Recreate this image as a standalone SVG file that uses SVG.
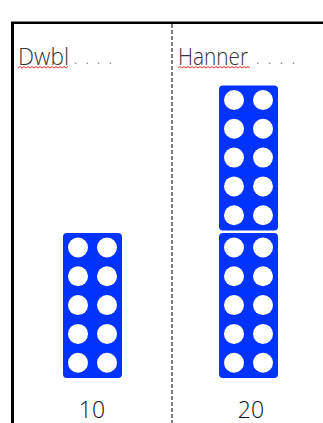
<svg xmlns="http://www.w3.org/2000/svg" width="323" height="423" viewBox="0 0 323 423">
<style>
.lbl{font-family:"Open Sans","Liberation Sans",sans-serif;font-weight:300;fill:#333;font-size:24px}
.dots{font-family:"Liberation Sans",sans-serif;fill:#777;font-size:12px}
.num{font-family:"Open Sans","Liberation Sans",sans-serif;font-weight:300;fill:#111;font-size:23px}
.brick{fill:#0033ff}
.hole{fill:#fff}
.wave{fill:none;stroke:#e8352a;stroke-width:1}
</style>
<defs>
<g id="ten">
<rect class="brick" x="0" y="0" width="59" height="145" rx="4"/>
<circle class="hole" cx="15" cy="14.5" r="10"/><circle class="hole" cx="44" cy="14.5" r="10"/>
<circle class="hole" cx="15" cy="43.3" r="10"/><circle class="hole" cx="44" cy="43.3" r="10"/>
<circle class="hole" cx="15" cy="72.1" r="10"/><circle class="hole" cx="44" cy="72.1" r="10"/>
<circle class="hole" cx="15" cy="100.9" r="10"/><circle class="hole" cx="44" cy="100.9" r="10"/>
<circle class="hole" cx="15" cy="129.7" r="10"/><circle class="hole" cx="44" cy="129.7" r="10"/>
</g>
</defs>
<rect width="323" height="423" fill="#fff"/>
<g id="frame">
<line x1="12.5" y1="22" x2="12.5" y2="423" stroke="#000" stroke-width="3"/>
<line x1="11" y1="22.7" x2="323" y2="22.7" stroke="#000" stroke-width="2.5"/>
<line x1="172" y1="24" x2="172" y2="423" stroke="#555" stroke-width="1.5" stroke-dasharray="4 2"/>
</g>
<g id="label-dwbl">
<text class="lbl" x="18" y="64.5" textLength="51" lengthAdjust="spacingAndGlyphs">Dwbl</text>
<text class="dots" x="74" y="64" textLength="38" lengthAdjust="spacing">. . . .</text>
<path class="wave" d="M18 68 l2 -1.5 l2 1.5 l2 -1.5 l2 1.5 l2 -1.5 l2 1.5 l2 -1.5 l2 1.5 l2 -1.5 l2 1.5 l2 -1.5 l2 1.5 l2 -1.5 l2 1.5 l2 -1.5 l2 1.5 l2 -1.5 l2 1.5 l2 -1.5 l2 1.5 l2 -1.5 l2 1.5 l2 -1.5 l2 1.5 l2 -1.5"/>
</g>
<g id="label-hanner">
<text class="lbl" x="178" y="64.5" textLength="70" lengthAdjust="spacingAndGlyphs">Hanner</text>
<text class="dots" x="256" y="64" textLength="39" lengthAdjust="spacing">. . . .</text>
<path class="wave" d="M178 68 l2 -1.5 l2 1.5 l2 -1.5 l2 1.5 l2 -1.5 l2 1.5 l2 -1.5 l2 1.5 l2 -1.5 l2 1.5 l2 -1.5 l2 1.5 l2 -1.5 l2 1.5 l2 -1.5 l2 1.5 l2 -1.5 l2 1.5 l2 -1.5 l2 1.5 l2 -1.5 l2 1.5 l2 -1.5 l2 1.5 l2 -1.5 l2 1.5 l2 -1.5 l2 1.5 l2 -1.5 l2 1.5 l2 -1.5 l2 1.5 l2 -1.5 l2 1.5 l2 -1.5 l2 1.5"/>
</g>
<g id="brick-left"><use href="#ten" x="63" y="233"/></g>
<g id="brick-right-top"><use href="#ten" x="219" y="85.5"/></g>
<g id="brick-right-bottom"><use href="#ten" x="219" y="233"/></g>
<g id="num-10"><text class="num" x="92" y="417.5" text-anchor="middle">10</text></g>
<g id="num-20"><text class="num" x="251" y="417.5" text-anchor="middle">20</text></g>
</svg>
